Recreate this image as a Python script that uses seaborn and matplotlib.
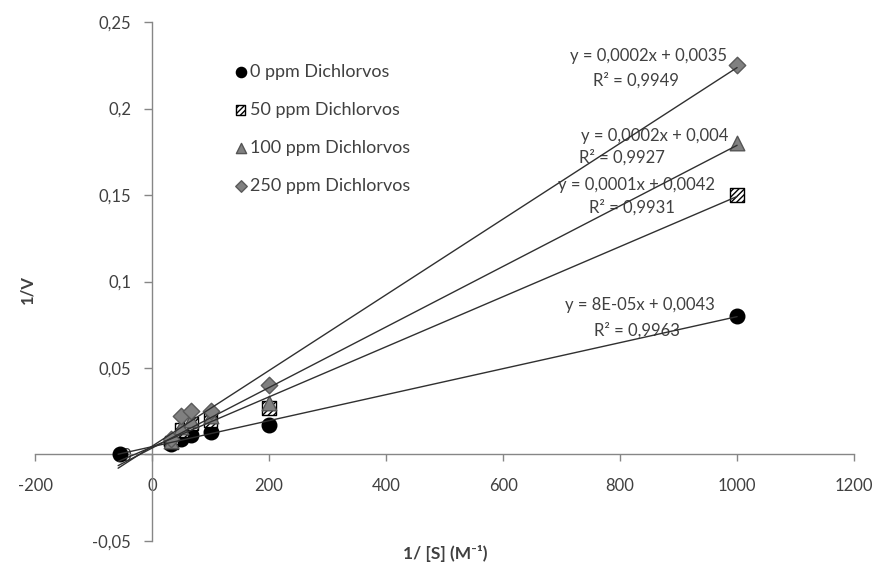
import numpy as np
import pandas as pd
import matplotlib
matplotlib.use('Agg')
import matplotlib.pyplot as plt
import seaborn as sns
from matplotlib.ticker import FuncFormatter, MultipleLocator

# 1/[S] values (M^-1) and 1/V for each dichlorvos concentration
x_vals = [33, 50, 67, 100, 200, 1000]
x_intercept = -55

inv_v_0 = [0.006, 0.009, 0.011, 0.013, 0.017, 0.080]
inv_v_50 = [0.007, 0.014, 0.018, 0.020, 0.027, 0.150]
inv_v_100 = [0.008, 0.016, 0.020, 0.022, 0.030, 0.180]
inv_v_250 = [0.009, 0.022, 0.025, 0.025, 0.040, 0.225]

labels = ['0 ppm Dichlorvos', '50 ppm Dichlorvos', '100 ppm Dichlorvos', '250 ppm Dichlorvos']
equations = ['y = 8E-05x + 0,0043', 'y = 0,0001x + 0,0042', 'y = 0,0002x + 0,004', 'y = 0,0002x + 0,0035']
r_squared = ['R² = 0,9963', 'R² = 0,9931', 'R² = 0,9927', 'R² = 0,9949']

sns.set_style('white')
plt.rcParams['font.family'] = ['Lato', 'DejaVu Sans']

fig = plt.figure(figsize=(8.76, 5.67), dpi=100)
ax = fig.add_axes([0.040, 0.046, 0.935, 0.915])

series = [
    (x_vals + [x_intercept], inv_v_0 + [0.0], dict(marker='o', color='black', edgecolor='black', s=110)),
    (x_vals, inv_v_50, dict(marker='s', color='white', edgecolor='black', s=95, hatch='//////')),
    (x_vals, inv_v_100, dict(marker='^', color='#808080', edgecolor='#555555', s=110)),
    (x_vals, inv_v_250, dict(marker='D', color='#808080', edgecolor='#5a5a5a', s=70)),
]

for (xs, ys, style), lab in zip(series, labels):
    sns.scatterplot(x=xs, y=ys, ax=ax, label=lab, linewidth=1, zorder=3, **style)

# linear trendlines, extended back past the y axis
line_x = np.array([-58, 1000])
for xs, ys, _ in series:
    fit_x = np.array(xs[:6])
    fit_y = np.array(ys[:6])
    slope, icpt = np.polyfit(fit_x, fit_y, 1)
    ax.plot(line_x, slope * line_x + icpt, color='#303030', lw=1, zorder=4)

# equation labels: (x eq, y eq, x R2, y R2) in data units
eq_pos = [(834, 0.0866, 829, 0.0716),
          (828, 0.156, 820, 0.1426),
          (860, 0.184, 803, 0.172),
          (848, 0.2304, 827, 0.216)]
for (xe, ye, xr, yr), eq, r2 in zip(eq_pos, equations, r_squared):
    ax.text(xe, ye, eq, ha='center', va='center', fontsize=12, color='#404040')
    ax.text(xr, yr, r2, ha='center', va='center', fontsize=12, color='#404040')

ax.set_xlim(-200, 1200)
ax.set_ylim(-0.05, 0.25)
ax.xaxis.set_major_locator(MultipleLocator(200))
ax.yaxis.set_major_locator(MultipleLocator(0.05))

for side in ['top', 'right']:
    ax.spines[side].set_visible(False)
ax.spines['left'].set_position(('data', 0))
ax.spines['bottom'].set_position(('data', 0))
for side in ['left', 'bottom']:
    ax.spines[side].set_color('#868686')
    ax.spines[side].set_linewidth(1)

def comma_fmt(v, pos):
    if abs(v) < 1e-12:
        return '0'
    return ('%g' % round(v, 4)).replace('.', ',')

ax.yaxis.set_major_formatter(FuncFormatter(comma_fmt))
ax.xaxis.set_major_formatter(FuncFormatter(comma_fmt))
ax.tick_params(axis='both', direction='out', color='#868686', width=1,
               labelsize=12, labelcolor='#404040')
ax.tick_params(axis='y', length=6, pad=9, left=True)
ax.tick_params(axis='x', length=5, pad=12, bottom=True)

fig.text(27 / 876, 1 - 290 / 567, '1/V', rotation=90, ha='center', va='center',
         fontsize=12, fontweight='bold', color='#404040')
fig.text(445 / 876, 1 - 553 / 567, '1/ [S] (M⁻¹)', ha='center', va='center',
         fontsize=12.5, fontweight='bold', color='#404040')

leg = ax.legend(loc='upper left', bbox_to_anchor=(0.241, 0.92), frameon=False,
                borderaxespad=0, borderpad=0,
                labelspacing=1.22, handletextpad=0.1, markerscale=0.7,
                fontsize=13, handlelength=0.9)
for t in leg.get_texts():
    t.set_color('#404040')

fig.savefig('out.png', dpi=100)
